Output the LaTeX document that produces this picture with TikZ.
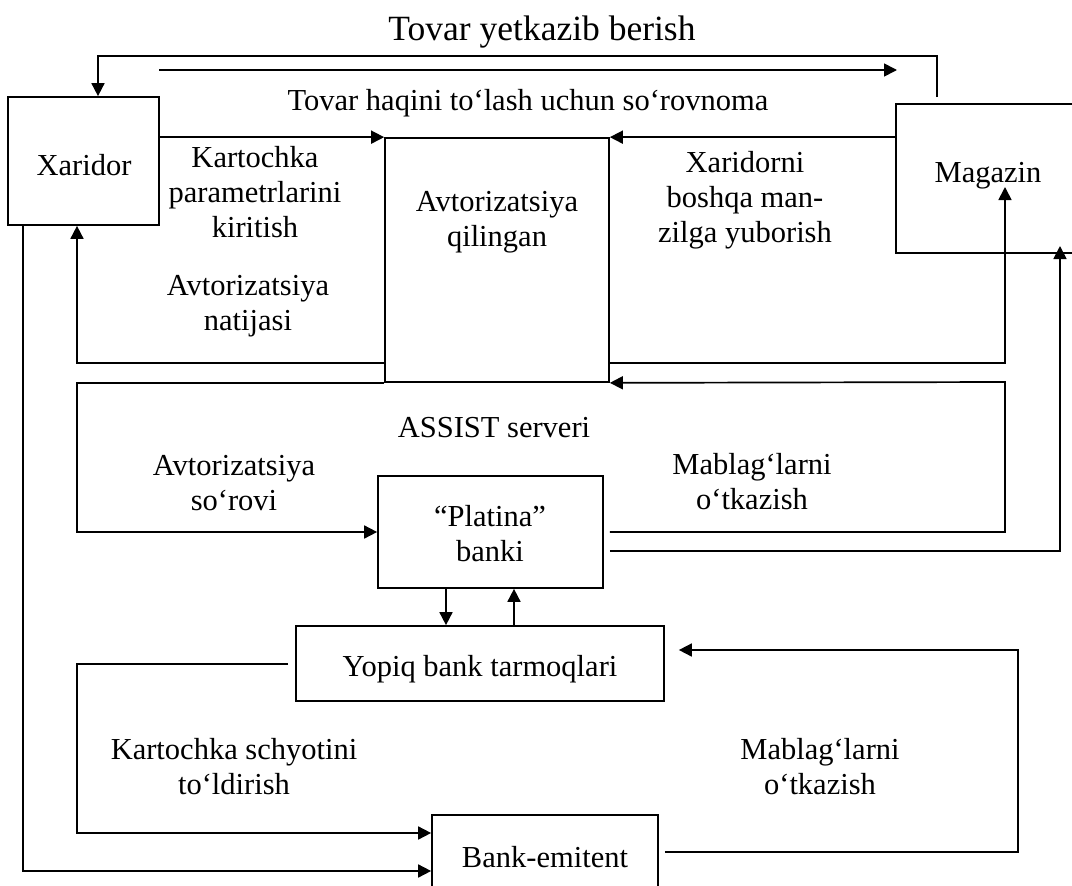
\documentclass[tikz,border=0pt]{standalone}
\usepackage{fontspec}
\setmainfont{Liberation Serif}
\usetikzlibrary{arrows.meta}
\begin{document}
\begin{tikzpicture}[x=1pt,y=-1pt,
  box/.style={draw,line width=1.7pt,inner sep=0pt},
  lbl/.style={inner sep=0pt,align=center,font=\fontsize{30.5}{35}\selectfont},
  ttl/.style={inner sep=0pt,font=\fontsize{35.5}{40}\selectfont},
  con/.style={line width=1.7pt},
  arr/.style={con,-{Triangle[length=13pt,width=13pt]}}]
\useasboundingbox (0,0) rectangle (1072,886);
\clip (0,0) rectangle (1072,886);
% boxes
\node[box,minimum width=151pt,minimum height=128pt] (X) at (83.5,161) {};
\node[box,minimum width=224pt,minimum height=244pt] (A) at (497,260) {};
\node[box,minimum width=210pt,minimum height=149pt] (M) at (1001,178.5) {};
\node[box,minimum width=225pt,minimum height=112pt] (P) at (490.5,532) {};
\node[box,minimum width=368pt,minimum height=75pt] (Y) at (480,663.5) {};
\node[box,minimum width=226pt,minimum height=90pt] (B) at (545,860) {};
% texts
\node[ttl,anchor=base] (t1) at (542,40) {Tovar yetkazib berish};
\node[lbl,anchor=base] (t2) at (528,110) {Tovar haqini to‘lash uchun so‘rovnoma};
\node[lbl,anchor=base] (tX) at (84,175) {Xaridor};
\node[lbl,anchor=base] (tM) at (988,182) {Magazin};
\node[lbl] (t3) at (255,192) {Kartochka\\parametrlarini\\kiritish};
\node[lbl] (t4) at (248,306) {Avtorizatsiya\\natijasi};
\node[lbl] (tA) at (497,222) {Avtorizatsiya\\qilingan};
\node[lbl] (t5) at (745,200) {Xaridorni\\boshqa man-\\zilga yuborish};
\node[lbl,anchor=base] (t6) at (494,437) {ASSIST serveri};
\node[lbl] (t7) at (234,483) {Avtorizatsiya\\so‘rovi};
\node[lbl] (tP) at (490,534) {“Platina”\\banki};
\node[lbl] (t8) at (752,482) {Mablag‘larni\\o‘tkazish};
\node[lbl,anchor=base] (tY) at (480,676) {Yopiq bank tarmoqlari};
\node[lbl] (t9) at (234,767) {Kartochka schyotini\\to‘ldirish};
\node[lbl] (t10) at (820,767) {Mablag‘larni\\o‘tkazish};
\node[lbl,anchor=base] (tB) at (545,867) {Bank-emitent};
% free coordinates
\coordinate (mtop) at (937,97);
\coordinate (fa) at (159,70);
\coordinate (fb) at (897,70);
\coordinate (m1) at (1005,187);
\coordinate (m2) at (1060,246);
% connectors
\draw[arr] (mtop) |- (98,56) -- (X.north -| 98,0);
\draw[arr] (fa) -- (fb);
\draw[arr] (X.east |- A.north) -- (A.north west);
\draw[arr] (M.west |- A.north) -- (A.north east);
\draw[arr] (A.west |- 0,363) -| (X.south -| 77,0);
\draw[arr] (A.east |- 0,363) -| (m1);
\draw[arr] (A.south west) -| (77,532) -- (P.west);
\draw[arr] ([xshift=6pt]P.east) -| (1005,382) -- (A.south east);
\draw[arr] ([xshift=6pt]P.east |- 0,551) -| (m2);
\draw[arr] (P.south -| 446,0) -- (Y.north -| 446,0);
\draw[arr] (Y.north -| 514,0) -- (P.south -| 514,0);
\draw[arr] ([xshift=-7pt]Y.west |- 0,664) -| (77,833) -- (B.west |- 0,833);
\draw[arr] (X.south -| 23,0) |- (B.west |- 0,871);
\draw[arr] ([xshift=6pt]B.east |- 0,852) -| (1018,650) -- ([xshift=14pt]Y.east |- 0,650);
\end{tikzpicture}
\end{document}
